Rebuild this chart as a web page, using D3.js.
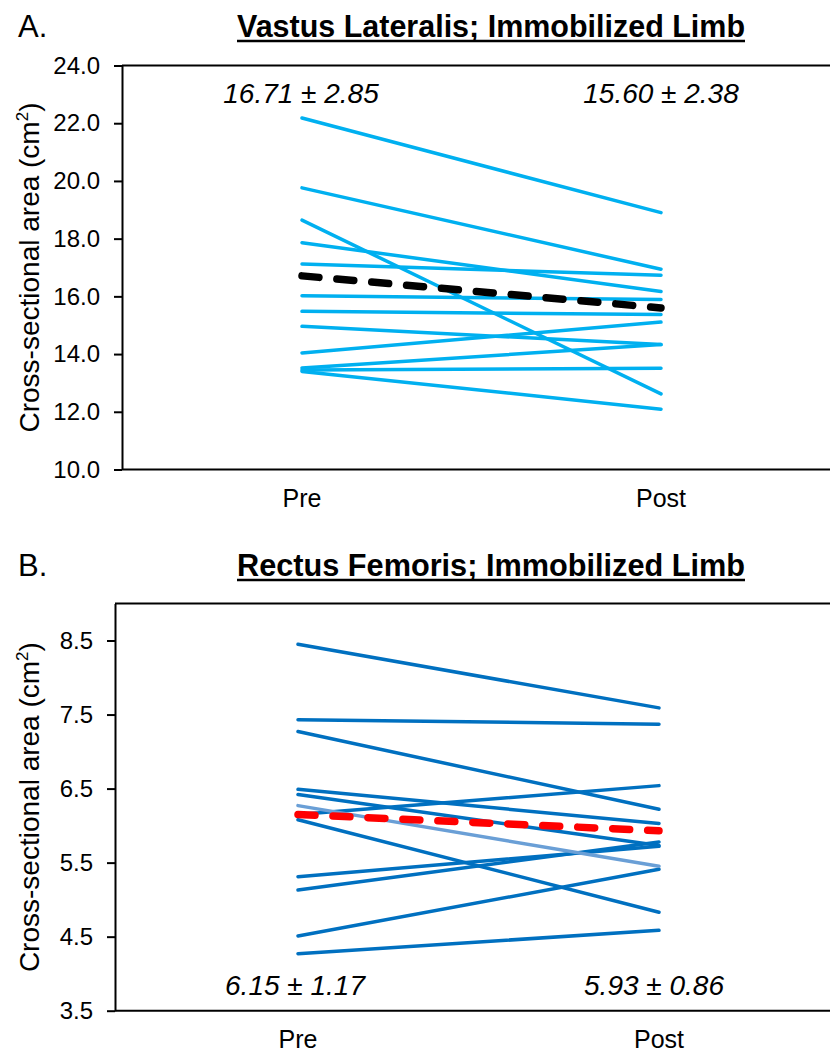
<!DOCTYPE html>
<html>
<head>
<meta charset="utf-8">
<script src="https://cdnjs.cloudflare.com/ajax/libs/d3/7.8.5/d3.min.js"></script>
<style>
  body { margin: 0; background: #fff; }
  svg text { font-family: "Liberation Sans", Arial, sans-serif; fill: #000; }
  .title, .panel-tag { font-family: "Liberation Sans Narrow", "Arial Narrow", sans-serif; }
</style>
</head>
<body>
<svg id="chart" width="830" height="1053"></svg>
<script>
var categories = ['Pre', 'Post'];

// A. vastus lateralis, one entry per subject (cm2)
var vlPre  = [22.18, 19.76, 18.64, 17.86, 17.12, 16.02, 15.48, 14.96, 14.04, 13.52, 13.45, 13.40];
var vlPost = [18.90, 16.94, 12.62, 16.17, 16.73, 15.89, 15.37, 14.33, 15.11, 14.33, 13.51, 12.09];
var vlMean = [16.71, 15.60];
var vlSD   = [2.85, 2.38];
var vlTicks = [10, 12, 14, 16, 18, 20, 22, 24];

// B. rectus femoris
var rfPre  = [8.45, 7.43, 7.27, 6.49, 6.42, 6.15, 6.08, 5.31, 5.13, 4.51, 4.27];
var rfPost = [7.59, 7.37, 6.22, 6.03, 5.73, 6.54, 4.83, 5.72, 5.78, 5.41, 4.585];
var rfHighlight = [6.27, 5.45];   // the lighter line
var rfMean = [6.15, 5.93];
var rfSD   = [1.17, 0.86];
var rfTicks = [3.5, 4.5, 5.5, 6.5, 7.5, 8.5];

var svg = d3.select('#chart');
var fmt = d3.format('.2f');

function drawPanel(opts) {
  var g = svg.append('g');

  var y = d3.scaleLinear().domain(opts.domain).range([opts.bottom, opts.top]);
  var x = d3.scalePoint().domain(categories).range(opts.xRange);
  var line = d3.line()
    .x(function(d, i) { return x(categories[i]); })
    .y(function(d) { return y(d); });

  // panel tag + underlined title
  g.append('text')
    .attr('class', 'panel-tag')
    .attr('x', 18)
    .attr('y', opts.titleY)
    .attr('font-size', 31)
    .text(opts.tag);

  g.append('text')
    .attr('class', 'title')
    .attr('x', 491)
    .attr('y', opts.titleY)
    .attr('text-anchor', 'middle')
    .attr('font-size', 32)
    .attr('font-weight', 'bold')
    .attr('textLength', 508)
    .attr('lengthAdjust', 'spacingAndGlyphs')
    .text(opts.title);
  g.append('line')
    .attr('x1', 491 - 254).attr('x2', 491 + 254)
    .attr('y1', opts.titleY + 4).attr('y2', opts.titleY + 4)
    .attr('stroke', '#000')
    .attr('stroke-width', 2.5);

  // plot frame (top and bottom edges run off the right side)
  g.append('line')
    .attr('x1', opts.left).attr('x2', 830)
    .attr('y1', opts.top).attr('y2', opts.top)
    .attr('stroke', '#000').attr('stroke-width', 2);
  g.append('line')
    .attr('x1', opts.left).attr('x2', 830)
    .attr('y1', opts.bottom).attr('y2', opts.bottom)
    .attr('stroke', '#000').attr('stroke-width', 2);

  // y axis
  var yAxis = d3.axisLeft(y)
    .tickValues(opts.ticks)
    .tickSize(8)
    .tickSizeOuter(0)
    .tickPadding(14)
    .tickFormat(d3.format('.1f'));
  var ag = g.append('g')
    .attr('transform', 'translate(' + opts.left + ',0)')
    .call(yAxis)
    .attr('font-family', null)
    .attr('font-size', 24);
  ag.selectAll('path, line').attr('stroke', '#000').attr('stroke-width', 2);

  // y axis title
  var yt = g.append('text')
    .attr('transform', 'translate(39,' + ((opts.top + opts.bottom) / 2) + ') rotate(-90)')
    .attr('text-anchor', 'middle')
    .attr('font-size', 28)
    .text('Cross-sectional area (cm');
  yt.append('tspan').attr('dy', -11).attr('font-size', 17).text('2');
  yt.append('tspan').attr('dy', 11).text(')');

  // category labels
  g.selectAll('.cat')
    .data(categories)
    .enter()
    .append('text')
    .attr('class', 'cat')
    .attr('x', function(d) { return x(d); })
    .attr('y', opts.bottom + 37)
    .attr('text-anchor', 'middle')
    .attr('font-size', 25)
    .text(function(d) { return d; });

  // one line per subject
  var pairs = opts.pre.map(function(v, i) { return [v, opts.post[i]]; });
  g.append('g')
    .selectAll('path')
    .data(pairs)
    .enter()
    .append('path')
    .attr('d', line)
    .attr('fill', 'none')
    .attr('stroke', opts.color)
    .attr('stroke-width', 3.5)
    .attr('stroke-linecap', 'round');

  if (opts.highlight) {
    g.append('path')
      .attr('d', line(opts.highlight))
      .attr('fill', 'none')
      .attr('stroke', '#6a9fd6')
      .attr('stroke-width', 3.5)
      .attr('stroke-linecap', 'round');
  }

  // group mean
  g.append('path')
    .attr('d', line(opts.mean))
    .attr('fill', 'none')
    .attr('stroke', opts.meanColor)
    .attr('stroke-width', 7.5)
    .attr('stroke-linecap', 'round')
    .attr('stroke-dasharray', '17,18');

  // mean ± SD labels
  g.selectAll('.stat')
    .data(categories)
    .enter()
    .append('text')
    .attr('class', 'stat')
    .attr('x', function(d, i) { return x(d) + opts.statDx[i]; })
    .attr('y', opts.statY)
    .attr('text-anchor', 'middle')
    .attr('font-size', 28)
    .attr('font-style', 'italic')
    .text(function(d, i) { return fmt(opts.mean[i]) + ' \u00b1 ' + fmt(opts.sd[i]); });
}

drawPanel({
  tag: 'A.', title: 'Vastus Lateralis; Immobilized Limb', titleY: 37,
  domain: [10, 24], ticks: vlTicks, top: 65.5, bottom: 469.5, left: 122,
  xRange: [302, 661],
  pre: vlPre, post: vlPost, mean: vlMean, sd: vlSD,
  color: '#00b0f0', meanColor: '#000',
  statY: 103, statDx: [-1, 0]
});

drawPanel({
  tag: 'B.', title: 'Rectus Femoris; Immobilized Limb', titleY: 576,
  domain: [3.5, 9.0], ticks: rfTicks, top: 603.5, bottom: 1010.7, left: 115,
  xRange: [298, 659],
  pre: rfPre, post: rfPost, highlight: rfHighlight, mean: rfMean, sd: rfSD,
  color: '#0070c0', meanColor: '#ff0000',
  statY: 995, statDx: [-3, -5]
});
</script>
</body>
</html>
